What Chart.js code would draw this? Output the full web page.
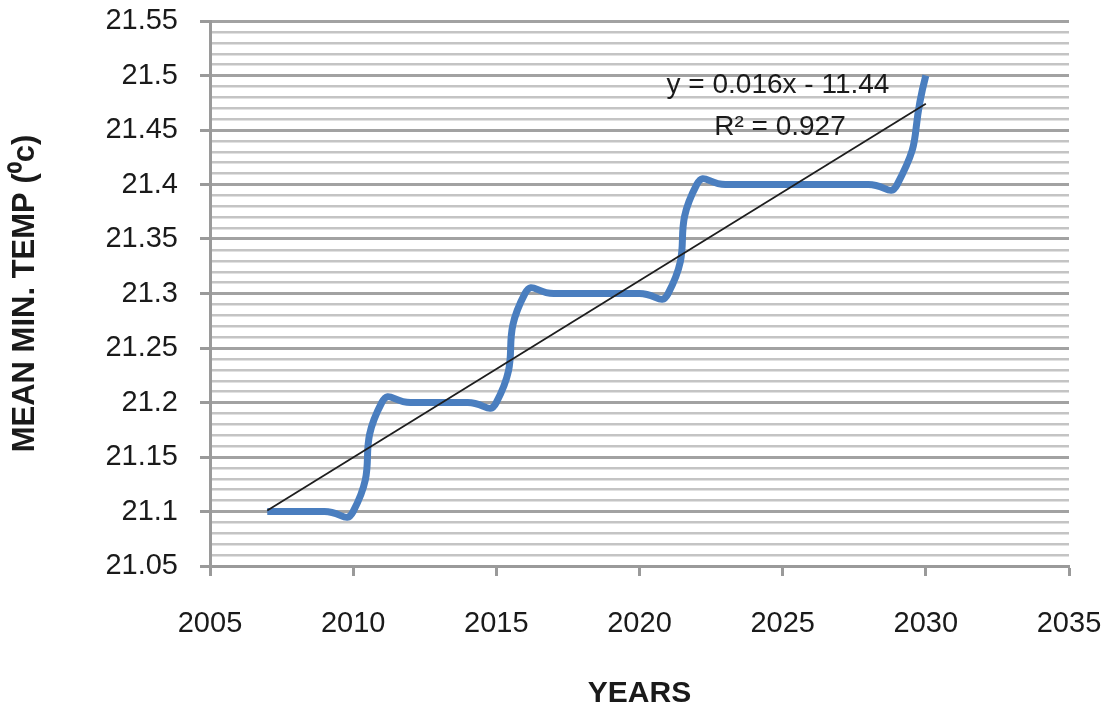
<!DOCTYPE html>
<html>
<head>
<meta charset="utf-8">
<script src="https://cdn.jsdelivr.net/npm/chart.js@4.4.1/dist/chart.umd.min.js"></script>
<style>
  html, body { margin: 0; padding: 0; background: #ffffff; }
  canvas { display: block; }
</style>
</head>
<body>
<canvas id="chart" width="1107" height="710"></canvas>
<script>
// Yearly mean minimum temperature
const years = [2007, 2008, 2009, 2010, 2011, 2012, 2013, 2014, 2015, 2016, 2017, 2018,
               2019, 2020, 2021, 2022, 2023, 2024, 2025, 2026, 2027, 2028, 2029, 2030];
const minTemp = [21.1, 21.1, 21.1, 21.1, 21.2, 21.2, 21.2, 21.2, 21.2, 21.3, 21.3, 21.3,
                 21.3, 21.3, 21.3, 21.4, 21.4, 21.4, 21.4, 21.4, 21.4, 21.4, 21.4, 21.5];

// Axis ticks
const xTickValues = [2005, 2010, 2015, 2020, 2025, 2030, 2035];
const yTickLabels = ['21.05', '21.1', '21.15', '21.2', '21.25', '21.3', '21.35', '21.4', '21.45', '21.5', '21.55'];

// Trendline text
const trendEquation = 'y = 0.016x - 11.44';
const trendR2 = 'R\u00B2 = 0.927';

// Least-squares linear trend through the yearly values
function linearFit(xs, ys) {
  const n = xs.length;
  const mx = xs.reduce((a, b) => a + b, 0) / n;
  const my = ys.reduce((a, b) => a + b, 0) / n;
  let sxy = 0, sxx = 0;
  for (let i = 0; i < n; i++) {
    sxy += (xs[i] - mx) * (ys[i] - my);
    sxx += (xs[i] - mx) * (xs[i] - mx);
  }
  const slope = sxy / sxx;
  return { slope, intercept: my - slope * mx };
}
const fit = linearFit(years, minTemp);
const trendPoints = [years[0], years[years.length - 1]].map(x => ({ x, y: fit.intercept + fit.slope * x }));

const yMin = Number(yTickLabels[0]);
const yMax = Number(yTickLabels[yTickLabels.length - 1]);
const isMajor = v => Math.round(v * 100) % 5 === 0;

const FONT = "'Liberation Sans', Arial, sans-serif";
const TEXT = '#1a1a1a';

// Axis titles and trendline equation
const annotations = {
  id: 'annotations',
  afterDraw(chart) {
    const ctx = chart.ctx;
    const area = chart.chartArea;
    ctx.save();
    ctx.fillStyle = TEXT;
    ctx.textAlign = 'center';
    ctx.textBaseline = 'middle';

    ctx.font = "bold 31px " + FONT;
    ctx.save();
    ctx.translate(25, (area.top + area.bottom) / 2);
    ctx.rotate(-Math.PI / 2);
    ctx.fillText('MEAN MIN. TEMP (\u2070c)', 0, 0);
    ctx.restore();

    ctx.font = "bold 30px 'Liberation Sans Narrow', " + FONT;
    ctx.fillText('YEARS', (area.left + area.right) / 2, 694);

    ctx.font = "28px " + FONT;
    ctx.fillText(trendEquation, 778, 85);
    ctx.fillText(trendR2, 780, 127);
    ctx.restore();
  }
};

new Chart(document.getElementById('chart'), {
  type: 'line',
  data: {
    datasets: [
      {
        label: 'Mean min. temp',
        data: years.map((x, i) => ({ x, y: minTemp[i] })),
        borderColor: '#4a7ebf',
        borderWidth: 7,
        pointRadius: 0,
        tension: 0.6,
        fill: false,
        order: 2
      },
      {
        label: 'Linear trend',
        data: trendPoints,
        borderColor: '#1e1e1e',
        borderWidth: 1.8,
        pointRadius: 0,
        tension: 0,
        fill: false,
        order: 1
      }
    ]
  },
  options: {
    responsive: false,
    animation: false,
    events: [],
    layout: { padding: 0 },
    plugins: { legend: { display: false }, tooltip: { enabled: false } },
    scales: {
      x: {
        type: 'linear',
        min: xTickValues[0],
        max: xTickValues[xTickValues.length - 1],
        afterBuildTicks(scale) { scale.ticks = xTickValues.map(v => ({ value: v })); },
        afterFit(scale) {
          scale.height = 144;
          scale.paddingLeft = 0;
          scale.paddingRight = 38;
        },
        ticks: {
          color: TEXT,
          font: { family: FONT, size: 29 },
          padding: 31,
          maxRotation: 0,
          callback: v => String(v)
        },
        grid: { drawOnChartArea: false, drawTicks: true, tickLength: 10, tickColor: '#9a9a9a', tickWidth: 3 },
        border: { display: true, color: '#9a9a9a', width: 3 }
      },
      y: {
        type: 'linear',
        min: yMin,
        max: yMax,
        afterBuildTicks(scale) {
          const ticks = [];
          for (let k = Math.round(yMin * 100); k <= Math.round(yMax * 100); k++) ticks.push({ value: k / 100 });
          scale.ticks = ticks;
        },
        afterFit(scale) {
          scale.width = 210;
          scale.paddingTop = 21;
          scale.paddingBottom = 0;
        },
        ticks: {
          color: TEXT,
          font: { family: FONT, size: 29 },
          padding: 22,
          autoSkip: false,
          callback: v => {
            if (!isMajor(v)) return '';
            const idx = Math.round((v - yMin) * 20);
            return yTickLabels[idx];
          }
        },
        grid: {
          drawOnChartArea: true,
          drawTicks: true,
          tickLength: 10,
          color: c => isMajor(c.tick.value) ? '#a2a2a2' : '#c4c4c4',
          lineWidth: c => isMajor(c.tick.value) ? 3 : 2.4,
          tickColor: c => isMajor(c.tick.value) ? '#9a9a9a' : 'rgba(0,0,0,0)',
          tickWidth: 3
        },
        border: { display: true, color: '#9a9a9a', width: 3 }
      }
    }
  },
  plugins: [annotations]
});
</script>
</body>
</html>
